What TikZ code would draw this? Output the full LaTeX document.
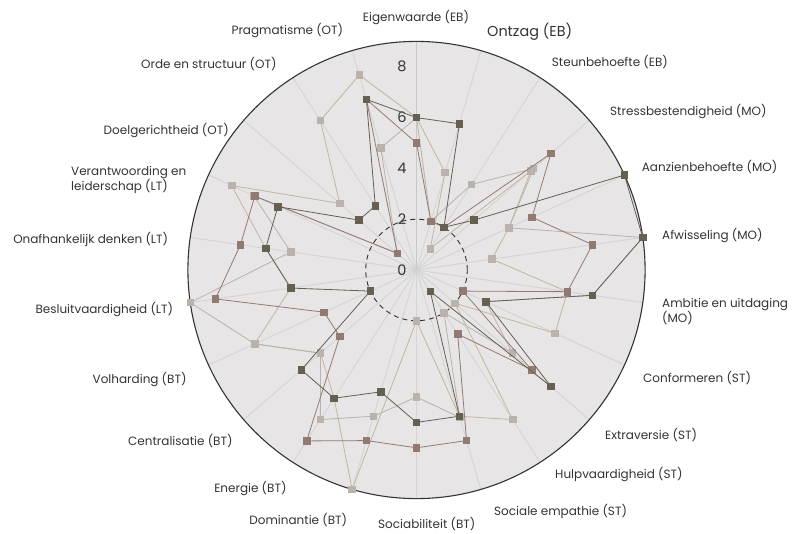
\documentclass[tikz,border=0pt]{standalone}
\usepackage{fontspec}
\setmainfont{Poppins}
\usetikzlibrary{plotmarks}
\definecolor{charcoal}{RGB}{101, 96, 82}
\definecolor{rosewood}{RGB}{146, 122, 114}
\definecolor{pebble}{RGB}{186, 178, 172}
\definecolor{sand}{RGB}{194, 182, 160}
\definecolor{plate}{RGB}{231, 229, 229}
\definecolor{spokegray}{RGB}{212, 212, 212}
\definecolor{ink}{RGB}{51, 51, 51}

\begin{document}
\begin{tikzpicture}[x=25.4pt, y=25.4pt,
        axislabel/.style={text=ink, font=\fontsize{12}{14.5}\selectfont, inner sep=0pt},
        ticklabel/.style={text=ink, font=\fontsize{14.5}{16}\selectfont, inner sep=0pt},
        profile/.style={line width=0.8pt, mark=square*, mark size=3.3pt, mark options={solid}}]
            % Frame to ensure alignment:
            \useasboundingbox (-416.5pt, -263pt) rectangle (377.5pt, 270pt);
            % Plate & spokes
            \fill[plate] (0,0) circle (9);
            \foreach \k in {1,...,21}
                \draw[spokegray, line width=0.9pt] (0,0) -- (90-\k*360/22:9);
            \draw[black!22, line width=0.9pt] (0,0) -- (0,9);
            \draw[ink, line width=0.9pt, dash pattern=on 5pt off 4pt] (0,0) circle (2);
            \draw[ink, line width=1.1pt] (0,0) circle (9);
            % Scale
            \foreach \v in {0,2,...,8}
                \node[ticklabel] (tick\v) at (-0.57,\v) {\v};
            % Light profile
            \draw[profile, sand, mark options={fill=pebble, draw=pebble}] plot coordinates {
                (  90.00:6) (  73.64:4) (  57.27:1) (  40.91:5.95) (  24.55:4) (   8.18:3)
                (  -8.18:6) ( -24.55:6) ( -40.91:2) ( -57.27:7) ( -73.64:6) ( -90.00:2)
                (-106.36:9) (-122.73:6) (-139.09:5) (-155.45:7) (-171.82:5) ( 171.82:6)
                ( 155.45:8) ( 139.09:4) ( 122.73:7) ( 106.36:8) (  90.00:6)};
            % Grey profile
            \draw[profile, pebble] plot coordinates {
                (  90.00:6) (  73.64:2) (  57.27:4) (  40.91:6.1) (  24.55:4) (   8.18:9)
                (  -8.18:7) ( -24.55:3) ( -40.91:5) ( -57.27:2) ( -73.64:6.05) ( -90.00:5)
                (-106.36:6) (-122.73:7) (-139.09:5) (-155.45:7) (-171.82:9) ( 171.82:5)
                ( 155.45:7.05) ( 139.09:1) ( 106.36:5) (  90.00:6)};
            % Mauve profile
            \draw[profile, rosewood] plot coordinates {
                (  90.00:5) (  73.64:2) (  57.27:2) (  40.91:7) (  24.55:5) (   8.18:7)
                (  -8.18:6) ( -24.55:2) ( -40.91:6) ( -57.27:3) ( -73.64:7) ( -90.00:7)
                (-106.36:7) (-122.73:8) (-139.09:4) (-155.45:4) (-171.82:8) ( 171.82:7)
                ( 155.45:7) ( 139.09:1) ( 106.36:7) (  90.00:5)};
            % Dark profile
            \draw[profile, charcoal] plot coordinates {
                (  90.00:6) (  73.64:6) (  57.27:2) (  40.91:3) (  24.55:9) (   8.18:9)
                (  -8.18:7) ( -24.55:3) ( -40.91:7) ( -57.27:1) ( -73.64:6) ( -90.00:6)
                (-106.36:5) (-122.73:6) (-139.09:6) (-155.45:2) (-171.82:5) ( 171.82:6)
                ( 155.45:6) ( 139.09:3) ( 122.73:3) ( 106.36:7) (  90.00:6)};
            % Axis labels
            \node[axislabel]                                          (eigenwaarde)   at (  -0.5pt,  252.0pt) {Eigenwaarde (EB)};
            \node[axislabel, anchor=west, font=\fontsize{14.4}{16}\selectfont] (ontzag) at (  70.5pt,  238.0pt) {Ontzag (EB)};
            \node[axislabel, anchor=west]                             (steunbehoefte) at ( 135.2pt,  208.3pt) {Steunbehoefte (EB)};
            \node[axislabel, anchor=west]                             (stress)        at ( 193.5pt,  158.3pt) {Stressbestendigheid (MO)};
            \node[axislabel, anchor=west]                             (aanzien)       at ( 225.2pt,  103.3pt) {Aanzienbehoefte (MO)};
            \node[axislabel, anchor=west]                             (afwisseling)   at ( 245.5pt,   34.0pt) {Afwisseling (MO)};
            \node[axislabel, anchor=west, align=left]                 (ambitie)       at ( 245.5pt,  -41.5pt) {Ambitie en uitdaging\\(MO)};
            \node[axislabel, anchor=west]                             (conformeren)   at ( 226.5pt, -108.0pt) {Conformeren (ST)};
            \node[axislabel, anchor=west]                             (extraversie)   at ( 188.5pt, -165.0pt) {Extraversie (ST)};
            \node[axislabel, anchor=west]                             (hulp)          at ( 138.5pt, -205.0pt) {Hulpvaardigheid (ST)};
            \node[axislabel, anchor=west]                             (empathie)      at (  77.5pt, -241.7pt) {Sociale empathie (ST)};
            \node[axislabel, anchor=west]                             (sociabiliteit) at ( -38.5pt, -254.0pt) {Sociabiliteit (BT)};
            \node[axislabel, anchor=east]                             (dominantie)    at ( -69.2pt, -250.0pt) {Dominantie (BT)};
            \node[axislabel, anchor=east]                             (energie)       at (-129.8pt, -218.3pt) {Energie (BT)};
            \node[axislabel, anchor=east]                             (centralisatie) at (-183.8pt, -170.7pt) {Centralisatie (BT)};
            \node[axislabel, anchor=east]                             (volharding)    at (-229.8pt, -110.0pt) {Volharding (BT)};
            \node[axislabel, anchor=east]                             (besluit)       at (-243.2pt,  -39.3pt) {Besluitvaardigheid (LT)};
            \node[axislabel, anchor=east]                             (onafhankelijk) at (-248.2pt,   30.7pt) {Onafhankelijk denken (LT)};
            \node[axislabel, anchor=west, align=left]                 (verantwoording) at (-345.5pt,  90.0pt) {Verantwoording en\\leiderschap (LT)};
            \node[axislabel, anchor=east]                             (doel)          at (-187.5pt,  139.0pt) {Doelgerichtheid (OT)};
            \node[axislabel, anchor=east]                             (orde)          at (-139.8pt,  206.0pt) {Orde en structuur (OT)};
            \node[axislabel, anchor=east]                             (pragmatisme)   at ( -73.2pt,  239.3pt) {Pragmatisme (OT)};
\end{tikzpicture}
\end{document}
